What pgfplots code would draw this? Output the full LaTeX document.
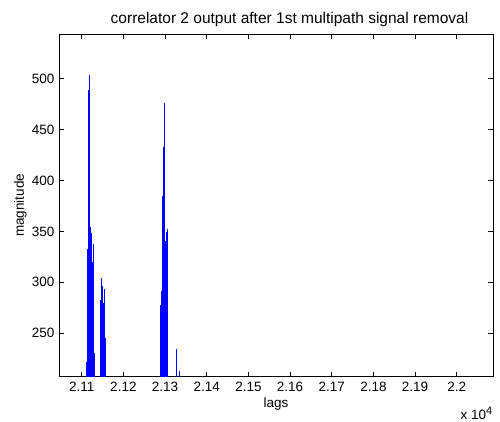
\documentclass[border=0pt]{standalone}
\usepackage{pgfplots}
\pgfplotsset{compat=1.18}
\usepackage{fontspec}
\setmainfont{Liberation Sans}
\begin{document}
\fontsize{13.5}{15}\selectfont
\begin{tikzpicture}
\begin{axis}[
  scale only axis,
  width=434pt, height=342.7pt,
  xmin=21045.5, xmax=22087,
  ymin=207.5, ymax=543.5,
  xtick={21100,21200,21300,21400,21500,21600,21700,21800,21900,22000},
  xticklabels={2.11,2.12,2.13,2.14,2.15,2.16,2.17,2.18,2.19,2.2},
  ytick={250,300,350,400,450,500},
  scaled x ticks=false,
  scaled y ticks=false,
  tick align=inside,
  major tick length=5pt,
  tick style={black, line width=0.6pt},
  axis line style={black, line width=0.6pt},
  /pgf/number format/assume math mode=true,
  tick label style={font=\fontsize{13.5}{15}\selectfont},
  xticklabel style={yshift=-1pt},
  xlabel={lags},
  ylabel={magnitude},
  label style={font=\fontsize{13.5}{15}\selectfont},
  xlabel style={yshift=3pt},
  ylabel style={yshift=-4pt},
  clip=true,
]
\addplot[ycomb, color={rgb,255:red,0;green,0;blue,255}, line width=1pt, mark=none] coordinates {
(21111.0,222) (21113.2,333) (21115.6,489) (21118.0,503) (21120.4,354)
(21122.8,348) (21125.2,320) (21127.6,338) (21130.0,231)
(21145.0,283) (21147.5,304) (21150.0,296) (21152.3,280) (21154.7,293) (21157.0,245)
(21289.0,278) (21291.5,292) (21294.0,385) (21296.3,433) (21298.7,476)
(21301.0,341) (21303.5,349) (21306.0,352)
(21326.3,235) (21334.0,213)
};
\end{axis}
\node[anchor=base, font=\fontsize{15.5}{17}\selectfont] at ([xshift=13.5pt,yshift=10.5pt]current axis.north) {correlator 2 output after 1st multipath signal removal};
\node[anchor=base east, inner sep=0pt] at ([yshift=-43pt]current axis.south east) {x 10\textsuperscript{\fontsize{11}{12}\selectfont 4}};
\pgfresetboundingbox
\path[use as bounding box] ([shift={(-59pt,-45.3pt)}]current axis.south west) rectangle ([shift={(7pt,34pt)}]current axis.north east);
\end{tikzpicture}
\end{document}
